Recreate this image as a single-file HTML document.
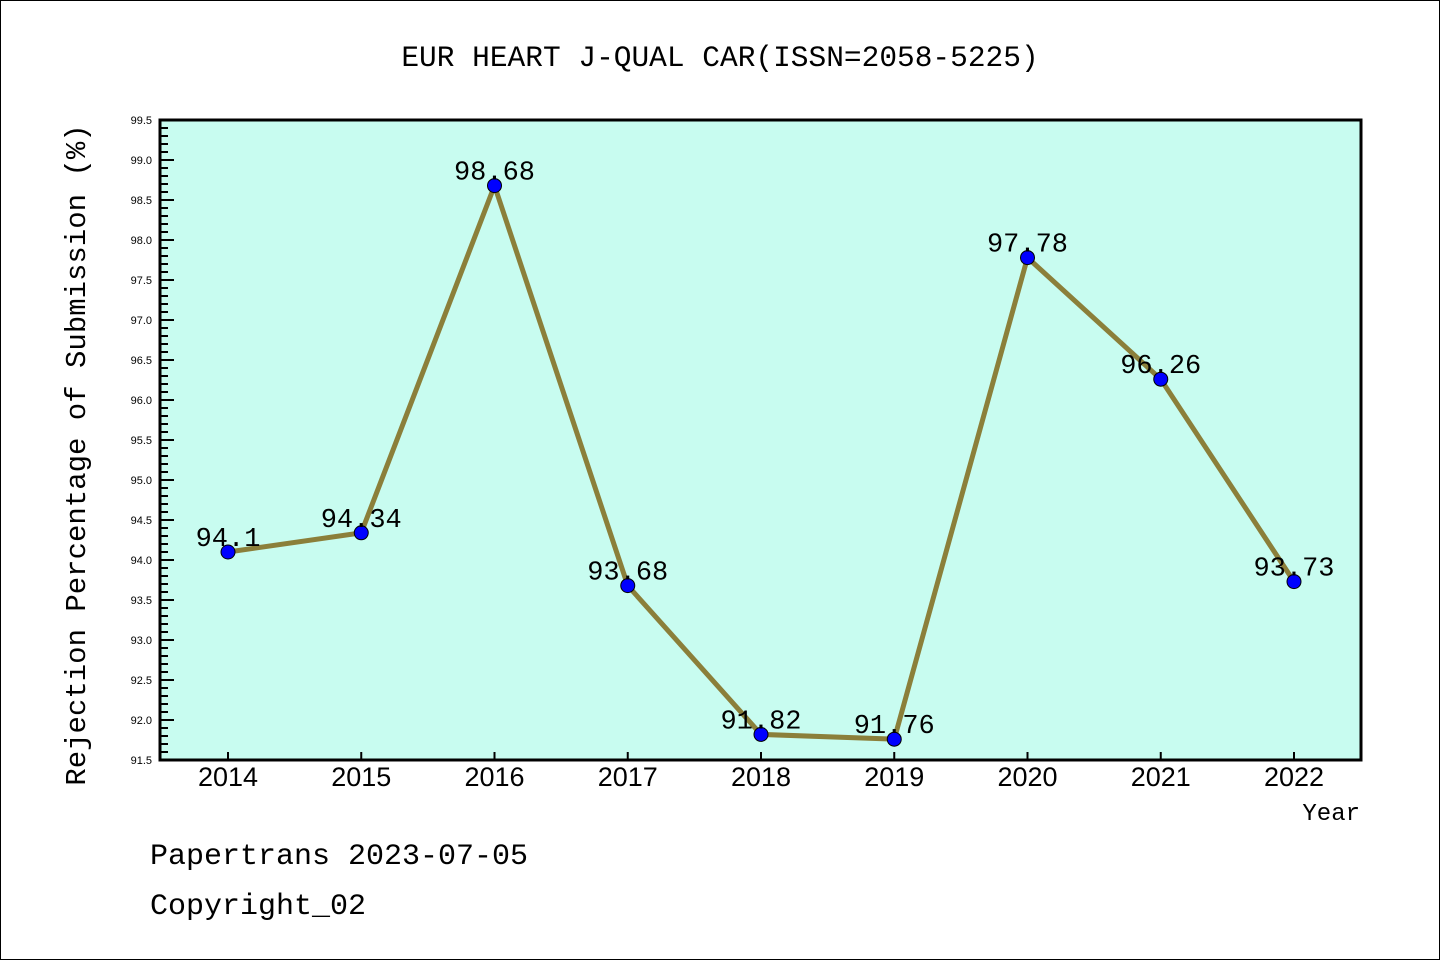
<!DOCTYPE html>
<html><head><meta charset="utf-8"><style>
html,body{margin:0;padding:0;background:#fff}
svg{display:block}
text{font-family:"Liberation Mono",monospace}
.s{font-family:"Liberation Sans",sans-serif}
</style></head><body>
<svg id="c" width="1440" height="960" xmlns="http://www.w3.org/2000/svg">
<rect x="0.5" y="0.5" width="1439" height="959" fill="#fff" stroke="#000" stroke-width="1"/>
<text x="720" y="66" font-size="29.5" text-anchor="middle">EUR HEART J-QUAL CAR(ISSN=2058-5225)</text>
<rect x="160" y="120" width="1201" height="640" fill="#c8fcf0"/>
<g id="ticks"></g>
<g id="series"></g>
<rect x="160" y="120" width="1201" height="640" fill="none" stroke="#000" stroke-width="3"/>
<text transform="translate(85,455) rotate(-90)" font-size="29" text-anchor="middle">Rejection Percentage of Submission (%)</text>
<text x="1360" y="820" font-size="24" text-anchor="end">Year</text>
<text x="150" y="864" font-size="30">Papertrans 2023-07-05</text>
<text x="150" y="914" font-size="30">Copyright_02</text>
</svg>
<script>
const years=["2014","2015","2016","2017","2018","2019","2020","2021","2022"];
const values=[94.1,94.34,98.68,93.68,91.82,91.76,97.78,96.26,93.73];
const labels=["94.1","94.34","98.68","93.68","91.82","91.76","97.78","96.26","93.73"];
const yMin=91.5,yMax=99.5;
const NS="http://www.w3.org/2000/svg";
const xs=i=>228+i*(1294-228)/(years.length-1);
const ys=v=>760-(v-yMin)/(yMax-yMin)*640;
function mk(t,a,p){const e=document.createElementNS(NS,t);for(const k in a)e.setAttribute(k,a[k]);p.appendChild(e);return e;}
const tg=document.getElementById('ticks'),sg=document.getElementById('series');
for(let k=0;k<=80;k++){const v=yMin+k*0.1;const y=ys(v);const major=k%5===0;
 const l=mk('line',{x1:160,x2:160+(major?14:8),y1:y,y2:y,stroke:'#000','stroke-width':2},tg);
 
 if(major){const t=mk('text',{x:152,y:y+4,'font-size':11,'text-anchor':'end','class':'s'},tg);t.textContent=v.toFixed(1);
 }}
years.forEach((yr,i)=>{const x=xs(i);
 const l=mk('line',{x1:x,x2:x,y1:760,y2:752,stroke:'#000','stroke-width':2},tg);
 
 const t=mk('text',{x:x,y:786,'font-size':27,'text-anchor':'middle','class':'s'},tg);t.textContent=yr;
 });
const pl=mk('polyline',{points:values.map((v,i)=>xs(i)+','+ys(v)).join(' '),fill:'none',stroke:'#8b7f3a','stroke-width':5},sg);

values.forEach((v,i)=>{const c=mk('circle',{cx:xs(i),cy:ys(v),r:7,fill:'#0000ff',stroke:'#000','stroke-width':1},sg);
 
 const t=mk('text',{x:xs(i),y:ys(v)-6,'font-size':27,'text-anchor':'middle'},sg);t.textContent=labels[i];
 });
</script>
</body></html>
